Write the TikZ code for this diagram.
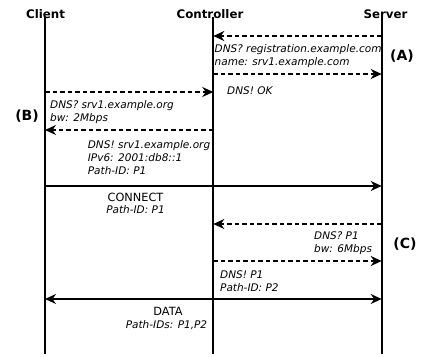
\documentclass[tikz,border=0pt]{standalone}
\usepackage{fontspec}
\setmainfont{DejaVu Sans}
\usetikzlibrary{arrows.meta}
\begin{document}
\begin{tikzpicture}[x=1pt,y=-1pt,
  lifeline/.style={line width=1.7pt},
  msg/.style={line width=1.6pt,-{Stealth[length=11pt,width=10pt,inset=3.5pt]}},
  dmsg/.style={msg,dash pattern=on 4.5pt off 3pt},
  hdr/.style={font=\fontsize{11.8}{14}\selectfont\bfseries,inner sep=0pt,anchor=base},
  lbl/.style={font=\fontsize{10.5}{13}\selectfont\itshape,inner sep=0pt,anchor=base west},
  clbl/.style={lbl,anchor=base},
  plain/.style={font=\fontsize{11.3}{13}\selectfont,inner sep=0pt,anchor=base},
  tag/.style={font=\fontsize{14}{16}\selectfont\bfseries,inner sep=0pt}]
\useasboundingbox (0,0) rectangle (422,356);
\node[hdr] (c) at (45.5,18) {Client};
\node[hdr] (k) at (210,18) {Controller};
\node[hdr] (s) at (385.5,18) {Server};
\coordinate (ct) at (45,17); \coordinate (cb) at (45,354);
\coordinate (kt) at (213.3,17); \coordinate (kb) at (213.3,354);
\coordinate (st) at (381.7,17); \coordinate (sb) at (381.7,354);
\draw[lifeline] (ct) -- (cb);
\draw[lifeline] (kt) -- (kb);
\draw[lifeline] (st) -- (sb);
% (A)
\coordinate (s1) at (381.7,36); \coordinate (k1) at (213.3,36);
\draw[dmsg] (s1) -- (k1);
\node[lbl] (l1a) at (214.5,52.7) {DNS? registration.example.com};
\node[lbl] (l1b) at (214.5,65.7) {name: srv1.example.com};
\coordinate (k2) at (213.3,74); \coordinate (s2) at (381.7,74);
\draw[dmsg] (k2) -- (s2);
\node[lbl] (l2) at (227,94) {DNS! OK};
\node[tag] (A) at (402,56) {(A)};
% (B)
\coordinate (c3) at (45,92); \coordinate (k3) at (213.3,92);
\draw[dmsg] (c3) -- (k3);
\node[lbl] (l3a) at (50,108.3) {DNS? srv1.example.org};
\node[lbl] (l3b) at (50,121.3) {bw: 2Mbps};
\node[tag] (B) at (27,116) {(B)};
\coordinate (k4) at (213.3,130); \coordinate (c4) at (45,130);
\draw[dmsg] (k4) -- (c4);
\node[lbl] (l4a) at (87.7,148.3) {DNS! srv1.example.org};
\node[lbl] (l4b) at (87.7,161.3) {IPv6: 2001:db8::1};
\node[lbl] (l4c) at (87.7,174.3) {Path-ID: P1};
% CONNECT
\coordinate (c5) at (45,186); \coordinate (s5) at (381.7,186);
\draw[msg] (c5) -- (s5);
\node[plain] (l5) at (135.5,201.5) {CONNECT};
\node[clbl] (l5b) at (135.5,213.5) {Path-ID: P1};
% (C)
\coordinate (s6) at (381.7,224); \coordinate (k6) at (213.3,224);
\draw[dmsg] (s6) -- (k6);
\node[lbl] (l6a) at (314,239.3) {DNS? P1};
\node[lbl] (l6b) at (314,252.3) {bw: 6Mbps};
\node[tag] (C) at (405,244) {(C)};
\coordinate (k7) at (213.3,261); \coordinate (s7) at (381.7,261);
\draw[dmsg] (k7) -- (s7);
\node[lbl] (l7a) at (220,278.5) {DNS! P1};
\node[lbl] (l7b) at (220,291.5) {Path-ID: P2};
% DATA
\coordinate (c8) at (45,299); \coordinate (s8) at (381.7,299);
\draw[line width=1.6pt,{Stealth[length=11pt,width=10pt,inset=3.5pt]}-{Stealth[length=11pt,width=10pt,inset=3.5pt]}] (c8) -- (s8);
\node[plain] (l8) at (168,315) {DATA};
\node[clbl] (l8b) at (166.5,328.5) {Path-IDs: P1,P2};
\end{tikzpicture}
\end{document}
